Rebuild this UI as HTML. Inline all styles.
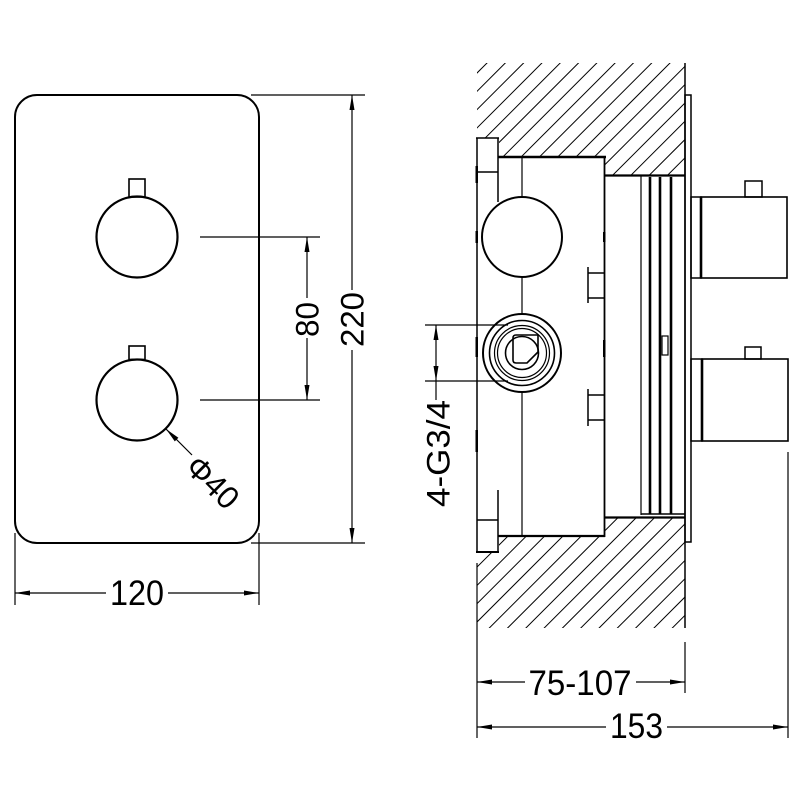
<!DOCTYPE html>
<html><head><meta charset="utf-8"><style>
html,body{margin:0;padding:0;background:#fff;}
svg{display:block;}
text{font-family:"Liberation Sans",Arial,sans-serif;fill:#000;}
</style></head><body>
<svg width="800" height="800" viewBox="0 0 800 800" xmlns="http://www.w3.org/2000/svg">
<defs>
<clipPath id="ct"><polygon points="477,63 685,63 685,175 605,175 605,157 499,157 499,138 477,138"/></clipPath>
<clipPath id="cb"><polygon points="477,552 499,552 499,537 605,537 605,518 685,518 685,628 477,628"/></clipPath>
</defs>
<rect width="800" height="800" fill="#fff"/>

<!-- ===== LEFT FRONT VIEW ===== -->
<g fill="none" stroke="#000">
<rect x="15" y="95" width="244" height="448" rx="22" ry="22" stroke-width="2"/>
<circle cx="137" cy="237" r="40.5" stroke-width="2.2"/>
<circle cx="137" cy="400" r="40.5" stroke-width="2.2"/>
<rect x="129" y="179" width="16" height="18" stroke-width="1.6"/>
<rect x="129" y="346" width="16" height="13.5" stroke-width="1.6"/>
<!-- extension lines -->
<g stroke-width="1.2">
<line x1="200" y1="237" x2="320" y2="237"/>
<line x1="200" y1="400" x2="320" y2="400"/>
<line x1="251" y1="95" x2="365" y2="95"/>
<line x1="251" y1="543" x2="365" y2="543"/>
<line x1="15" y1="533" x2="15" y2="605"/>
<line x1="259" y1="533" x2="259" y2="605"/>
<!-- dim lines -->
<line x1="307" y1="237" x2="307" y2="298"/>
<line x1="307" y1="338" x2="307" y2="400"/>
<line x1="352" y1="95" x2="352" y2="290"/>
<line x1="352" y1="350" x2="352" y2="543"/>
<line x1="15" y1="593" x2="106" y2="593"/>
<line x1="168" y1="593" x2="259" y2="593"/>
<line x1="166" y1="429" x2="192" y2="455"/>
</g>
</g>
<g fill="#000" stroke="none">
<polygon points="307,237 304.5,252 309.5,252"/>
<polygon points="307,400 304.5,385 309.5,385"/>
<polygon points="352,95 349.5,110 354.5,110"/>
<polygon points="352,543 349.5,528 354.5,528"/>
<polygon points="15,593 30,590.5 30,595.5"/>
<polygon points="259,593 244,590.5 244,595.5"/>
<polygon points="166,429 178.4,437.8 174.8,441.4"/>
</g>
<text x="0" y="11.5" font-size="32" text-anchor="middle" textLength="35" lengthAdjust="spacingAndGlyphs" transform="translate(307,319.5) rotate(-90)">80</text>
<text x="0" y="11.5" font-size="32" text-anchor="middle" textLength="55" lengthAdjust="spacingAndGlyphs" transform="translate(352,319.5) rotate(-90)">220</text>
<text x="137" y="605" font-size="35" text-anchor="middle" textLength="54" lengthAdjust="spacingAndGlyphs">120</text>
<text x="0" y="11.5" font-size="32" text-anchor="middle" textLength="60" lengthAdjust="spacingAndGlyphs" transform="translate(213,482) rotate(45)">Φ40</text>

<!-- ===== RIGHT SIDE VIEW ===== -->
<!-- hatching -->
<g stroke="#000" stroke-width="1" clip-path="url(#ct)">
<line x1="481.7" y1="50" x2="341.7" y2="190"/>
<line x1="500" y1="50" x2="360" y2="190"/>
<line x1="518.3" y1="50" x2="378.3" y2="190"/>
<line x1="536.6" y1="50" x2="396.6" y2="190"/>
<line x1="554.9" y1="50" x2="414.9" y2="190"/>
<line x1="573.2" y1="50" x2="433.2" y2="190"/>
<line x1="591.5" y1="50" x2="451.5" y2="190"/>
<line x1="609.8" y1="50" x2="469.8" y2="190"/>
<line x1="628.1" y1="50" x2="488.1" y2="190"/>
<line x1="646.4" y1="50" x2="506.4" y2="190"/>
<line x1="664.7" y1="50" x2="524.7" y2="190"/>
<line x1="683" y1="50" x2="543" y2="190"/>
<line x1="701.3" y1="50" x2="561.3" y2="190"/>
<line x1="719.6" y1="50" x2="579.6" y2="190"/>
<line x1="737.9" y1="50" x2="597.9" y2="190"/>
<line x1="756.2" y1="50" x2="616.2" y2="190"/>
<line x1="774.5" y1="50" x2="634.5" y2="190"/>
<line x1="792.8" y1="50" x2="652.8" y2="190"/>
<line x1="811.1" y1="50" x2="671.1" y2="190"/>
</g>
<g stroke="#000" stroke-width="1" clip-path="url(#cb)">
<line x1="489.2" y1="500" x2="349.2" y2="640"/>
<line x1="507.5" y1="500" x2="367.5" y2="640"/>
<line x1="525.8" y1="500" x2="385.8" y2="640"/>
<line x1="544.1" y1="500" x2="404.1" y2="640"/>
<line x1="562.4" y1="500" x2="422.4" y2="640"/>
<line x1="580.7" y1="500" x2="440.7" y2="640"/>
<line x1="599" y1="500" x2="459" y2="640"/>
<line x1="617.3" y1="500" x2="477.3" y2="640"/>
<line x1="635.6" y1="500" x2="495.6" y2="640"/>
<line x1="653.9" y1="500" x2="513.9" y2="640"/>
<line x1="672.2" y1="500" x2="532.2" y2="640"/>
<line x1="690.5" y1="500" x2="550.5" y2="640"/>
<line x1="708.8" y1="500" x2="568.8" y2="640"/>
<line x1="727.1" y1="500" x2="587.1" y2="640"/>
<line x1="745.4" y1="500" x2="605.4" y2="640"/>
<line x1="763.7" y1="500" x2="623.7" y2="640"/>
<line x1="782" y1="500" x2="642" y2="640"/>
<line x1="800.3" y1="500" x2="660.3" y2="640"/>
<line x1="818.6" y1="500" x2="678.6" y2="640"/>
<line x1="836.9" y1="500" x2="696.9" y2="640"/>
</g>

<g fill="none" stroke="#000" stroke-width="1.5">
<!-- wall line -->
<line x1="685" y1="63" x2="685" y2="628"/>
<!-- flange / left edge -->
<line x1="477" y1="138" x2="477" y2="552"/>
<line x1="476" y1="138" x2="499" y2="138"/>
<line x1="498" y1="138" x2="498" y2="202"/>
<line x1="477" y1="172" x2="498" y2="172"/>
<line x1="498" y1="490" x2="498" y2="553"/>
<line x1="477" y1="520" x2="498" y2="520"/>
<line x1="476" y1="552" x2="499" y2="552" stroke-width="2"/>
<!-- main box -->
<line x1="498" y1="157" x2="606" y2="157" stroke-width="2.6"/>
<line x1="604.5" y1="156" x2="604.5" y2="537" stroke-width="1.8"/>
<line x1="604" y1="175.5" x2="685" y2="175.5" stroke-width="2.2"/>
<line x1="604" y1="517.5" x2="685" y2="517.5" stroke-width="2.2"/>
<line x1="498" y1="536" x2="605" y2="536" stroke-width="2.2"/>
<!-- sub rect & strips -->
<line x1="641" y1="176" x2="641" y2="515" stroke-width="1.2"/>
<line x1="641" y1="514" x2="685" y2="514" stroke-width="1.5"/>
<line x1="650" y1="177" x2="650" y2="514" stroke-width="2.6"/>
<line x1="660" y1="177" x2="660" y2="514" stroke-width="2.6"/>
<line x1="671" y1="177" x2="671" y2="514" stroke-width="2.6"/>
<rect x="662" y="336" width="6" height="19" stroke-width="1.2"/>
<!-- cover plate -->
<rect x="685" y="95" width="6" height="447" stroke-width="1.5"/>
<!-- upper knob side -->
<rect x="691" y="197" width="10" height="81" stroke-width="1.5"/>
<rect x="701" y="197" width="86" height="81" stroke-width="1.6"/>
<line x1="701" y1="197" x2="701" y2="278" stroke-width="2.6"/>
<rect x="745" y="181" width="17" height="16" stroke-width="1.5"/>
<!-- lower knob side -->
<rect x="691" y="359" width="11" height="82" stroke-width="1.5"/>
<rect x="702" y="359" width="86" height="82" stroke-width="1.6"/>
<line x1="702" y1="359" x2="702" y2="441" stroke-width="2.6"/>
<rect x="745" y="347" width="16" height="12" stroke-width="1.5"/>
<!-- circles -->
<circle cx="522" cy="237" r="40" stroke-width="2"/>
<line x1="522" y1="157" x2="522" y2="197" stroke-width="1.2"/>
<line x1="522" y1="277" x2="522" y2="314" stroke-width="1.2"/>
<line x1="522" y1="392" x2="522" y2="536" stroke-width="1.2"/>
<circle cx="522" cy="353" r="39" stroke-width="2"/>
<circle cx="522" cy="353" r="32.5" stroke-width="1.6"/>
<circle cx="522" cy="353" r="27.5" stroke-width="1.2"/>
<circle cx="522" cy="353" r="24.5" stroke-width="1.2"/>
<circle cx="522" cy="353" r="16.5" stroke-width="1.6"/>
<path d="M516,335 L538,335 L538,352 L527,363 L516,363 Q513,363 513,360 L513,338 Q513,335 516,335 Z" stroke-width="1.6"/>
<!-- small side rects -->
<line x1="588" y1="267" x2="588" y2="303" stroke-width="1.5"/>
<line x1="588" y1="273" x2="604" y2="273" stroke-width="1.5"/>
<line x1="588" y1="298" x2="604" y2="298" stroke-width="1.5"/>
<line x1="588" y1="389" x2="588" y2="426" stroke-width="1.5"/>
<line x1="588" y1="395" x2="604" y2="395" stroke-width="1.5"/>
<line x1="588" y1="420" x2="604" y2="420" stroke-width="1.5"/>
</g>
<!-- small edge ticks -->
<g fill="#000">
<rect x="475.5" y="166" width="2.5" height="17"/>
<rect x="475.5" y="231" width="2.5" height="12"/>
<rect x="475.5" y="337" width="2.5" height="20"/>
<rect x="475.5" y="430" width="2.5" height="22"/>
<rect x="603" y="232" width="2.5" height="10"/>
<rect x="603" y="340" width="2.5" height="17"/>
</g>

<!-- side view dimensions -->
<g fill="none" stroke="#000" stroke-width="1.2">
<line x1="425" y1="325" x2="508" y2="325"/>
<line x1="425" y1="381" x2="508" y2="381"/>
<line x1="436" y1="325" x2="436" y2="400"/>
<line x1="477" y1="563" x2="477" y2="738"/>
<line x1="685" y1="642" x2="685" y2="693"/>
<line x1="788" y1="452" x2="788" y2="738"/>
<line x1="477" y1="682" x2="525" y2="682"/>
<line x1="636" y1="682" x2="685" y2="682"/>
<line x1="477" y1="727" x2="606" y2="727"/>
<line x1="667" y1="727" x2="788" y2="727"/>
</g>
<g fill="#000">
<polygon points="436,325 433.5,340 438.5,340"/>
<polygon points="436,381 433.5,366 438.5,366"/>
<polygon points="477,682 492,679.5 492,684.5"/>
<polygon points="685,682 670,679.5 670,684.5"/>
<polygon points="477,727 492,724.5 492,729.5"/>
<polygon points="788,727 773,724.5 773,729.5"/>
</g>
<text x="0" y="11.5" font-size="32" text-anchor="middle" textLength="107" lengthAdjust="spacingAndGlyphs" transform="translate(438,453.5) rotate(-90)">4-G3/4</text>
<text x="580" y="695" font-size="35" text-anchor="middle" textLength="103" lengthAdjust="spacingAndGlyphs">75-107</text>
<text x="636.5" y="738" font-size="35" text-anchor="middle" textLength="53" lengthAdjust="spacingAndGlyphs">153</text>
</svg>
</body></html>
